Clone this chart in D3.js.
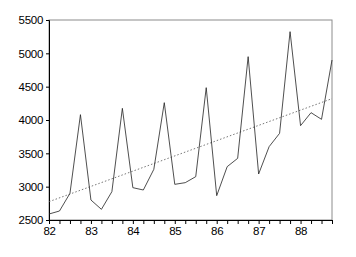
<!DOCTYPE html>
<html>
<head>
<meta charset="utf-8">
<script src="https://cdn.jsdelivr.net/npm/d3@7"></script>
<style>
  body { margin: 0; background: #fff; }
  svg { display: block; }
</style>
</head>
<body>
<div id="chart"></div>
<script>
// quarterly series, 1982Q1 .. 1988Q4
var years = [82, 83, 84, 85, 86, 87, 88]
var values = [
  2590, 2635, 2900, 4080,
  2800, 2660, 2925, 4175,
  2985, 2950, 3260, 4260,
  3035, 3060, 3150, 4485,
  2865, 3300, 3425, 4950,
  3190, 3600, 3800, 5325,
  3915, 4110, 4010, 4900
]
// fitted trend, first and last quarter
var trendX = [82, 88.75]
var trendY = [2775, 4320]
var yTicks = [2500, 3000, 3500, 4000, 4500, 5000, 5500]

var width = 356
var height = 257
var margin = { top: 20, right: 24, bottom: 37, left: 49 }

var svg = d3.select("#chart")
  .append("svg")
  .attr("width", width)
  .attr("height", height)

var x = d3.scaleLinear()
  .domain([82, 88.75])
  .range([margin.left, width - margin.right])

var y = d3.scaleLinear()
  .domain([2500, 5500])
  .range([height - margin.bottom, margin.top])

var points = values.map(function (v, i) { return { t: 82 + i / 4, v: v } })

// frame
svg.append("rect")
  .attr("x", x(82))
  .attr("y", y(5500))
  .attr("width", x(88.75) - x(82))
  .attr("height", y(2500) - y(5500))
  .attr("fill", "none")
  .attr("stroke", "#8c8c8c")

// y axis
var yAxis = svg.append("g")
  .attr("transform", "translate(" + x(82) + ",0)")
  .call(d3.axisLeft(y).tickValues(yTicks).tickSize(3).tickPadding(3).tickFormat(d3.format("d")))
yAxis.select(".domain").attr("stroke", "#000")

// x axis, ticks each quarter, labels on years
var quarters = d3.range(0, 28).map(function (i) { return 82 + i / 4 })
var xAxis = svg.append("g")
  .attr("transform", "translate(0," + y(2500) + ")")
  .call(d3.axisBottom(x).tickValues(quarters).tickSize(4).tickPadding(3)
    .tickFormat(function (d) { return years.indexOf(d) >= 0 ? d : "" }))
xAxis.select(".domain").attr("stroke", "#000")

svg.selectAll(".tick line").attr("stroke", "#000")
svg.selectAll(".tick text")
  .attr("fill", "#000")
  .style("font-family", "'Liberation Sans', Arial, sans-serif")
  .style("font-size", "11.5px")
  .style("letter-spacing", "-0.3px")

// trend line
svg.append("path")
  .datum(trendX.map(function (t, i) { return { t: t, v: trendY[i] } }))
  .attr("fill", "none")
  .attr("stroke", "#555")
  .attr("stroke-width", 0.8)
  .attr("stroke-dasharray", "1.5,2")
  .attr("d", d3.line().x(function (d) { return x(d.t) }).y(function (d) { return y(d.v) }))

// series
svg.append("path")
  .datum(points)
  .attr("fill", "none")
  .attr("stroke", "#222")
  .attr("stroke-width", 0.8)
  .attr("d", d3.line().x(function (d) { return x(d.t) }).y(function (d) { return y(d.v) }))
</script>
</body>
</html>
